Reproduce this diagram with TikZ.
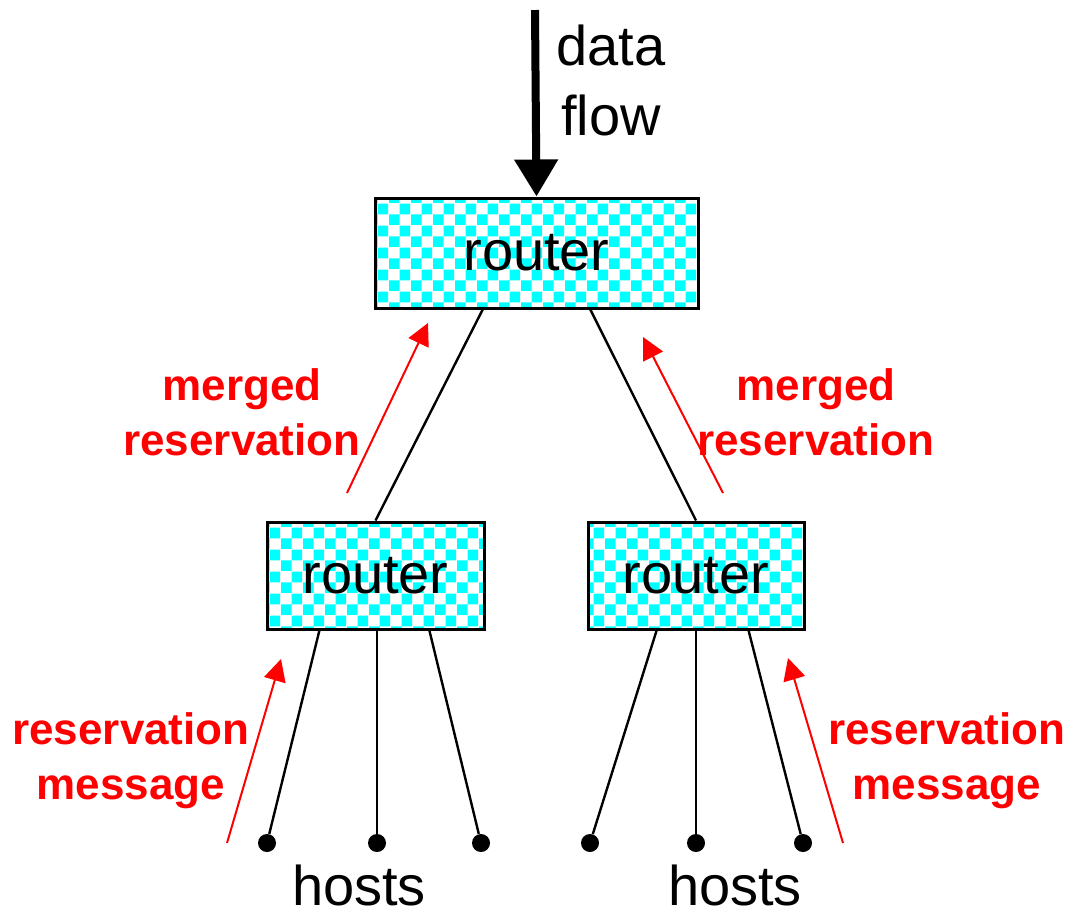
\documentclass[tikz,border=0pt]{standalone}
\usepackage{fontspec}
\setmainfont{Liberation Sans}
\usepackage{xcolor}
\usepackage{tikz}
\usetikzlibrary{
    arrows.meta,
    patterns,
    calc
}
\pgfdeclarepatternformonly{routerchecks}{\pgfqpoint{0pt}{0pt}}{\pgfqpoint{10.8pt}{10.8pt}}{\pgfqpoint{10.8pt}{10.8pt}}{%
    \pgfpathrectangle{\pgfqpoint{0pt}{0pt}}{\pgfqpoint{5.4pt}{5.4pt}}%
    \pgfpathrectangle{\pgfqpoint{5.4pt}{5.4pt}}{\pgfqpoint{5.4pt}{5.4pt}}%
    \pgfusepath{fill}}
\tikzset{
    routerbox/.style={
        rectangle,
        draw=black,
        line width=1.5pt,
        pattern=routerchecks,
        pattern color=cyan,
        inner sep=0pt,
        font=\fontsize{28}{35}\selectfont
    },
    hostdot/.style={
        circle,
        fill=black,
        inner sep=0pt,
        minimum size=9pt
    },
    blacklabel/.style={
        align=center,
        inner sep=0pt,
        font=\fontsize{28}{35}\selectfont
    },
    redlabel/.style={
        align=center,
        inner sep=0pt,
        text=red,
        font=\bfseries\fontsize{22}{27.5}\selectfont
    },
    link/.style={
        line width=1.2pt
    },
    resarrow/.style={
        -{Triangle[length=11pt, width=11pt]},
        red,
        line width=1pt
    },
    flowarrow/.style={
        -{Triangle[length=18.5pt, width=21pt]},
        line width=4pt
    }
}

\begin{document}
\begin{tikzpicture}[x=0.5pt, y=-0.5pt]
\useasboundingbox (0,0) rectangle (1069,917);

% routers
\node[routerbox, minimum width=161.5pt, minimum height=55pt] (toprouter) at (536.5,253) {router};
\node[routerbox, minimum width=108.5pt, minimum height=53.5pt] (leftrouter) at (375.5,575.5) {router};
\node[routerbox, minimum width=108pt, minimum height=53.5pt] (rightrouter) at (696,575.5) {router};

% hosts
\node[hostdot] (hostA) at (267,843) {};
\node[hostdot] (hostB) at (377,843) {};
\node[hostdot] (hostC) at (481,843) {};
\node[hostdot] (hostD) at (590,843) {};
\node[hostdot] (hostE) at (696,843) {};
\node[hostdot] (hostF) at (803,843) {};
\node[blacklabel, anchor=base] (lefthosts) at (359,905) {hosts};
\node[blacklabel, anchor=base] (righthosts) at (735,905) {hosts};

% labels
\node[blacklabel] (flowlabel) at (611,80) {data\\flow};
\node[redlabel] (leftmerged) at (242,412) {merged\\reservation};
\node[redlabel] (rightmerged) at (816,412) {merged\\reservation};
\node[redlabel] (leftmsg) at (131,761) {reservation\\message};
\node[redlabel] (rightmsg) at (947,761) {reservation\\message};

% arrow ends
\coordinate (flowtop) at (535,10);
\coordinate (leftmergedtail) at (347,493);
\coordinate (leftmergedtip) at (428,323);
\coordinate (rightmergedtail) at (723,493);
\coordinate (rightmergedtip) at (643,337);
\coordinate (leftmsgtail) at (227,843);
\coordinate (leftmsgtip) at (281,659);
\coordinate (rightmsgtail) at (843,843);
\coordinate (rightmsgtip) at (788,658);

\draw[flowarrow] (flowtop) -- (toprouter.north);

\draw[link] ($(toprouter.south west)!0.335!(toprouter.south east)$) -- (leftrouter.north);
\draw[link] ($(toprouter.south west)!0.665!(toprouter.south east)$) -- (rightrouter.north);

\draw[link] ($(leftrouter.south west)!0.245!(leftrouter.south east)$) -- (hostA);
\draw[link] (leftrouter.south -| hostB) -- (hostB);
\draw[link] ($(leftrouter.south west)!0.745!(leftrouter.south east)$) -- (hostC);
\draw[link] ($(rightrouter.south west)!0.32!(rightrouter.south east)$) -- (hostD);
\draw[link] (rightrouter.south) -- (hostE);
\draw[link] ($(rightrouter.south west)!0.74!(rightrouter.south east)$) -- (hostF);

\draw[resarrow] (leftmergedtail) -- (leftmergedtip);
\draw[resarrow] (rightmergedtail) -- (rightmergedtip);
\draw[resarrow] (leftmsgtail) -- (leftmsgtip);
\draw[resarrow] (rightmsgtail) -- (rightmsgtip);
\end{tikzpicture}
\end{document}
